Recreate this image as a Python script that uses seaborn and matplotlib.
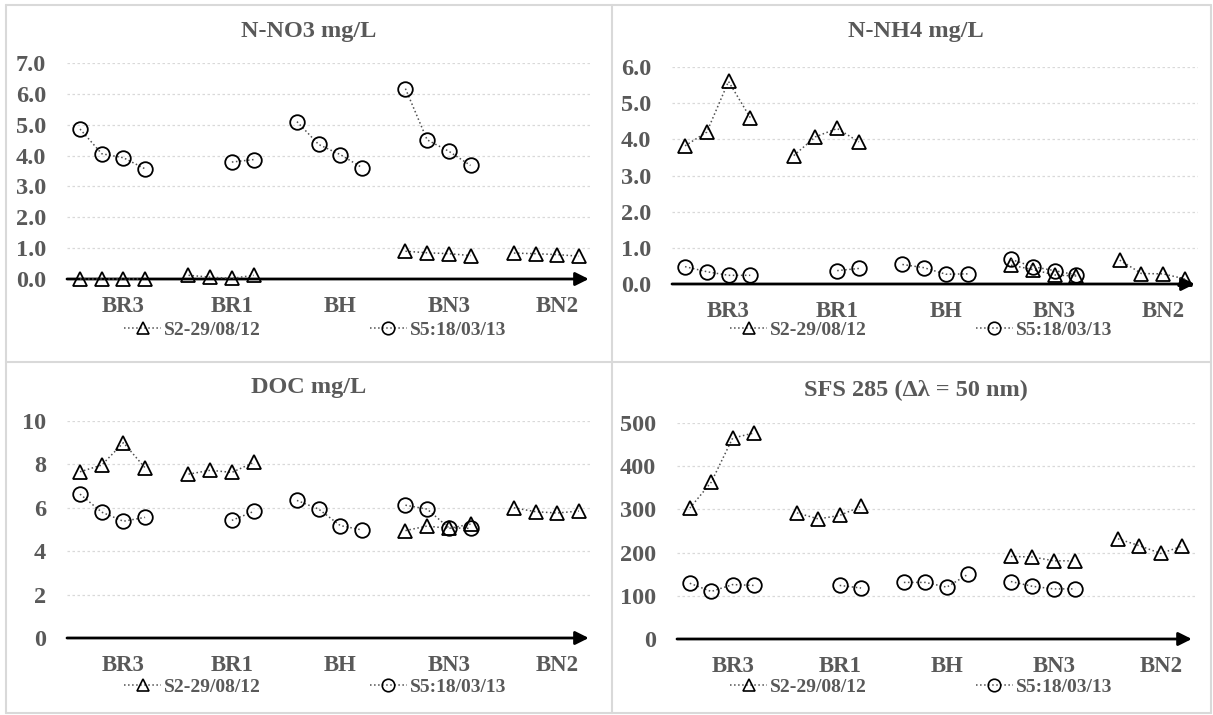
import numpy as np
import pandas as pd
import matplotlib
matplotlib.use("Agg")
import matplotlib.pyplot as plt
from matplotlib.lines import Line2D
import seaborn as sns

sites = ["BR3", "BR1", "BH", "BN3", "BN2"]
series = ["S2-29/08/12", "S5:18/03/13"]
nan = np.nan

no3_s2 = [[0.0, 0.0, 0.0, 0.0], [0.12, 0.06, 0.02, 0.12], [nan] * 4,
          [0.90, 0.85, 0.82, 0.76], [0.84, 0.82, 0.79, 0.74]]
no3_s5 = [[4.86, 4.06, 3.93, 3.57], [nan, nan, 3.79, 3.87], [5.10, 4.36, 4.03, 3.61],
          [6.17, 4.51, 4.14, 3.68], [nan] * 4]

nh4_s2 = [[3.82, 4.20, 5.60, 4.60], [3.55, 4.07, 4.30, 3.93], [nan] * 4,
          [0.52, 0.40, 0.25, 0.22], [0.66, 0.29, 0.28, 0.14]]
nh4_s5 = [[0.48, 0.34, 0.24, 0.24], [nan, nan, 0.37, 0.43], [0.54, 0.45, 0.27, 0.28],
          [0.68, 0.48, 0.37, 0.25], [nan] * 4]

doc_s2 = [[7.66, 7.97, 9.0, 7.84], [7.55, 7.73, 7.63, 8.09], [nan] * 4,
          [4.95, 5.16, 5.05, 5.25], [6.0, 5.82, 5.76, 5.85]]
doc_s5 = [[6.63, 5.80, 5.38, 5.56], [nan, nan, 5.42, 5.83], [6.34, 5.94, 5.18, 4.98],
          [6.12, 5.94, 5.08, 5.05], [nan] * 4]

sfs_s2 = [[303, 363, 465, 477], [292, 278, 286, 307], [nan] * 4,
          [191, 190, 181, 181], [232, 216, 198, 215]]
sfs_s5 = [[129, 110, 126, 124], [nan, nan, 124, 118], [131, 131, 120, 150],
          [133, 122, 116, 116], [nan] * 4]

W, H = 1213, 715
TXT = "#595959"
FONT = "Liberation Serif"


def to_frame(s2, s5):
    rows = []
    for name, vals in zip(series, [s2, s5]):
        for g, site in enumerate(sites):
            for i, v in enumerate(vals[g]):
                rows.append({"x": g * 5 + i, "value": v, "serie": name, "site": site})
    return pd.DataFrame(rows).dropna()


def px_axes(left, right, y0, ytop):
    # rectangle en pixels -> fraction de figure
    return [left / W, (H - y0) / H, (right - left) / W, (y0 - ytop) / H]


def draw_panel(ax, df, yticks, fmt, ymax):
    for name, mk, ms in zip(series, ["^", "o"], [10, 10.5]):
        sub = df[df["serie"] == name]
        sns.lineplot(data=sub, x="x", y="value", units="site", estimator=None,
                     ax=ax, color="#505050", linestyle=":", linewidth=1.1,
                     marker=mk, markersize=ms, markerfacecolor="none",
                     markeredgecolor="black", markeredgewidth=1.3,
                     clip_on=False, legend=False, zorder=3)
    ax.set_xlim(-0.6, 23.6)
    ax.set_ylim(0, ymax)
    ax.set_yticks(yticks)
    ax.set_yticklabels([fmt.format(t) for t in yticks])
    ax.set_xticks([g * 5 + 2 for g in range(len(sites))])
    ax.set_xticklabels(sites)
    ax.set_xlabel("")
    ax.set_ylabel("")
    ax.tick_params(axis="both", length=0, labelcolor=TXT)
    ax.tick_params(axis="y", pad=15, labelsize=17.5)
    ax.tick_params(axis="x", pad=12, labelsize=16.5)
    for lab in ax.get_xticklabels() + ax.get_yticklabels():
        lab.set_fontweight("bold")
        lab.set_family(FONT)
    for sp in ax.spines.values():
        sp.set_visible(False)
    ax.grid(False)
    for t in yticks[1:]:
        ax.axhline(t, color="#d9d9d9", lw=0.9, ls=(0, (2, 2)), zorder=0)
    ax.annotate("", xy=(23.45, 0), xytext=(-0.6, 0),
                arrowprops=dict(arrowstyle="-|>", color="black", lw=2,
                                mutation_scale=20, shrinkA=0, shrinkB=0),
                annotation_clip=False, zorder=2)
    ax.patch.set_alpha(0)


sns.set_style("white")
plt.rcParams["font.family"] = [FONT, "DejaVu Serif"]

fig = plt.figure(figsize=(W / 100, H / 100), dpi=100)

panels = [
    ("N-NO3 mg/L", no3_s2, no3_s5, [0, 1, 2, 3, 4, 5, 6, 7], "{:.1f}", 7,
     px_axes(67, 592, 279, 63), 309, 32, 315, 330),
    ("N-NH4 mg/L", nh4_s2, nh4_s5, [0, 1, 2, 3, 4, 5, 6], "{:.1f}", 6,
     px_axes(672, 1198, 284, 67), 916, 32, 921, 330),
    ("DOC mg/L", doc_s2, doc_s5, [0, 2, 4, 6, 8, 10], "{:d}", 10,
     px_axes(67, 592, 638, 421), 309, 388, 315, 687),
    ("SFS 285 (\u0394\u03bb = 50 nm)", sfs_s2, sfs_s5, [0, 100, 200, 300, 400, 500], "{:d}", 500,
     px_axes(677, 1195, 639, 423), 916, 390, 921, 687),
]

handles = [
    Line2D([], [], color="#505050", ls=":", lw=1.1, marker="^", ms=9,
           mfc="none", mec="black", mew=1.2),
    Line2D([], [], color="#505050", ls=":", lw=1.1, marker="o", ms=9,
           mfc="none", mec="black", mew=1.2),
]

for title, s2, s5, yt, fmt, ymax, rect, tx, ty, lx, ly in panels:
    ax = fig.add_axes(rect)
    draw_panel(ax, to_frame(s2, s5), yt, fmt, ymax)
    fig.text(tx / W, 1 - ty / H, title, ha="center", va="center",
             fontsize=17.5, fontweight="bold", color=TXT, family=FONT)
    fig.legend(handles, series, loc="center", ncol=2, frameon=False,
               bbox_to_anchor=(lx / W, 1 - ly / H),
               prop={"family": FONT, "weight": "bold", "size": 14},
               labelcolor=TXT, handlelength=1.9, handletextpad=0.15,
               columnspacing=5.6)

# cadres des quatre graphiques
grey = "#d9d9d9"
for xs, ys in [([6, 6], [5, 713]), ([612, 612], [5, 713]), ([1211, 1211], [5, 713]),
               ([6, 1211], [5, 5]), ([6, 1211], [362, 362]), ([6, 1211], [713, 713])]:
    fig.add_artist(Line2D([x / W for x in xs], [1 - y / H for y in ys],
                          transform=fig.transFigure, color=grey, lw=1.5))

fig.savefig("out.png", dpi=100, facecolor="white")
